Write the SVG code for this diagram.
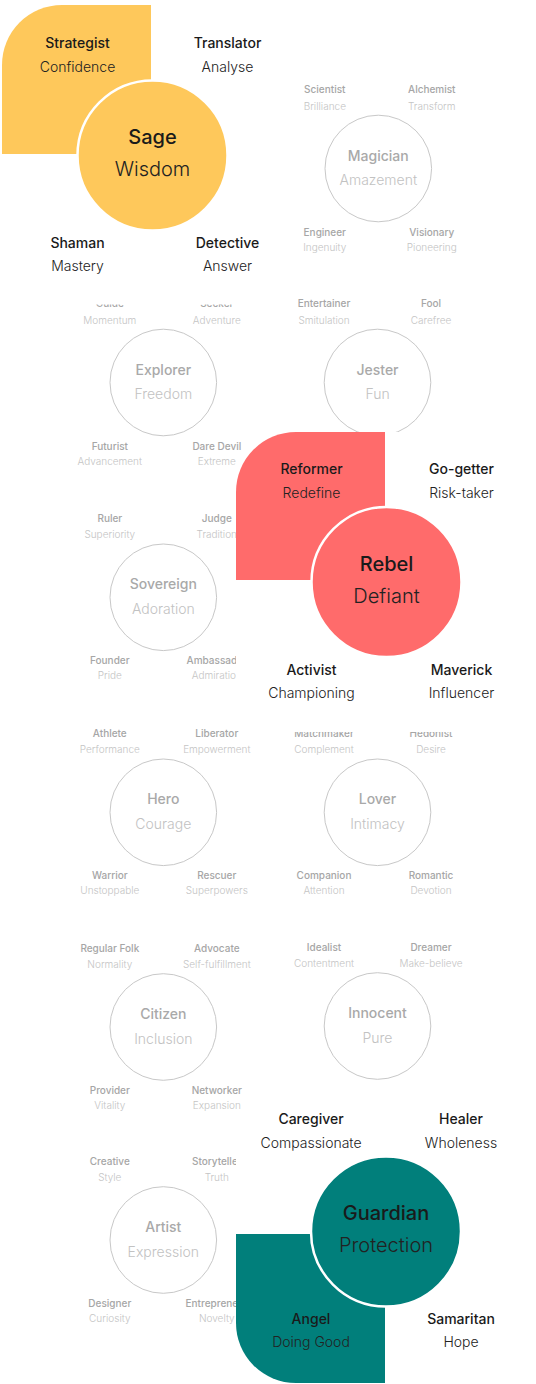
<svg xmlns="http://www.w3.org/2000/svg" width="536" height="1384" viewBox="0 0 536 1384">
<style>
text{font-family:Inter,"Liberation Sans",sans-serif;text-anchor:middle}
.c{fill:none;stroke:#c8c8c8;stroke-width:1}
.nn{font-size:10px;font-weight:500;fill:#a6a6a6}
.nv{font-size:10px;font-weight:300;fill:#c4c4c4}
.nt{font-size:14px;font-weight:500;fill:#a9a9a9}
.ns{font-size:14px;font-weight:300;fill:#c2c2c2}
.hn{font-size:14px;font-weight:500;fill:#1a1a1a}
.hv{font-size:14px;font-weight:300;fill:#222}
.ht{font-size:20px;font-weight:500;fill:#1a1a1a}
.hs{font-size:20px;font-weight:300;fill:#222}
.bg{fill:#fff}
.hc{stroke:#fff;stroke-width:2.5}
.y{fill:#FEC85B}.r{fill:#FF6B6B}.g{fill:#017F7B}
</style>
<rect width="536" height="1384" fill="#fff"/>
<g id="connectors"/>
<g id="magician">
<circle class="c" cx="378.3" cy="168.5" r="53.3"/>
<text class="nt" x="378.3" y="160.5">Magician</text><text class="ns" x="378.3" y="185">Amazement</text>
<text class="nn" x="324.8" y="93">Scientist</text><text class="nv" x="324.8" y="109.5">Brilliance</text>
<text class="nn" x="431.8" y="93">Alchemist</text><text class="nv" x="431.8" y="109.5">Transform</text>
<text class="nn" x="324.8" y="235.5">Engineer</text><text class="nv" x="324.8" y="250.5">Ingenuity</text>
<text class="nn" x="431.8" y="235.5">Visionary</text><text class="nv" x="431.8" y="250.5">Pioneering</text>
</g>
<g id="explorer">
<circle class="c" cx="163.3" cy="382.5" r="53.3"/>
<text class="nt" x="163.3" y="374.5">Explorer</text><text class="ns" x="163.3" y="399">Freedom</text>
<text class="nn" x="109.8" y="307">Guide</text><text class="nv" x="109.8" y="323.5">Momentum</text>
<text class="nn" x="216.8" y="307">Seeker</text><text class="nv" x="216.8" y="323.5">Adventure</text>
<text class="nn" x="109.8" y="449.5">Futurist</text><text class="nv" x="109.8" y="464.5">Advancement</text>
<text class="nn" x="216.8" y="449.5">Dare Devil</text><text class="nv" x="216.8" y="464.5">Extreme</text>
</g>
<g id="jester">
<circle class="c" cx="377.5" cy="382.5" r="53.3"/>
<text class="nt" x="377.5" y="374.5">Jester</text><text class="ns" x="377.5" y="399">Fun</text>
<text class="nn" x="324" y="307">Entertainer</text><text class="nv" x="324" y="323.5">Smitulation</text>
<text class="nn" x="431" y="307">Fool</text><text class="nv" x="431" y="323.5">Carefree</text>
</g>
<g id="sovereign">
<circle class="c" cx="163.3" cy="597.3" r="53.3"/>
<text class="nt" x="163.3" y="589.3">Sovereign</text><text class="ns" x="163.3" y="613.8">Adoration</text>
<text class="nn" x="109.8" y="521.8">Ruler</text><text class="nv" x="109.8" y="538.3">Superiority</text>
<text class="nn" x="216.8" y="521.8">Judge</text><text class="nv" x="216.8" y="538.3">Tradition</text>
<text class="nn" x="109.8" y="664.3">Founder</text><text class="nv" x="109.8" y="679.3">Pride</text>
<text class="nn" x="216.8" y="664.3">Ambassador</text><text class="nv" x="216.8" y="679.3">Admiration</text>
</g>
<g id="hero">
<circle class="c" cx="163.3" cy="812.3" r="53.3"/>
<text class="nt" x="163.3" y="804.3">Hero</text><text class="ns" x="163.3" y="828.8">Courage</text>
<text class="nn" x="109.8" y="736.8">Athlete</text><text class="nv" x="109.8" y="753.3">Performance</text>
<text class="nn" x="216.8" y="736.8">Liberator</text><text class="nv" x="216.8" y="753.3">Empowerment</text>
<text class="nn" x="109.8" y="879.3">Warrior</text><text class="nv" x="109.8" y="894.3">Unstoppable</text>
<text class="nn" x="216.8" y="879.3">Rescuer</text><text class="nv" x="216.8" y="894.3">Superpowers</text>
</g>
<g id="lover">
<circle class="c" cx="377.5" cy="812.3" r="53.3"/>
<text class="nt" x="377.5" y="804.3">Lover</text><text class="ns" x="377.5" y="828.8">Intimacy</text>
<text class="nn" x="324" y="736.8">Matchmaker</text><text class="nv" x="324" y="753.3">Complement</text>
<text class="nn" x="431" y="736.8">Hedonist</text><text class="nv" x="431" y="753.3">Desire</text>
<text class="nn" x="324" y="879.3">Companion</text><text class="nv" x="324" y="894.3">Attention</text>
<text class="nn" x="431" y="879.3">Romantic</text><text class="nv" x="431" y="894.3">Devotion</text>
</g>
<g id="citizen">
<circle class="c" cx="163.3" cy="1027" r="53.3"/>
<text class="nt" x="163.3" y="1019">Citizen</text><text class="ns" x="163.3" y="1043.5">Inclusion</text>
<text class="nn" x="109.8" y="951.5">Regular Folk</text><text class="nv" x="109.8" y="968">Normality</text>
<text class="nn" x="216.8" y="951.5">Advocate</text><text class="nv" x="216.8" y="968">Self-fulfillment</text>
<text class="nn" x="109.8" y="1094">Provider</text><text class="nv" x="109.8" y="1109">Vitality</text>
<text class="nn" x="216.8" y="1094">Networker</text><text class="nv" x="216.8" y="1109">Expansion</text>
</g>
<g id="innocent">
<circle class="c" cx="377.5" cy="1026" r="53.3"/>
<text class="nt" x="377.5" y="1018">Innocent</text><text class="ns" x="377.5" y="1042.5">Pure</text>
<text class="nn" x="324" y="950.5">Idealist</text><text class="nv" x="324" y="967">Contentment</text>
<text class="nn" x="431" y="950.5">Dreamer</text><text class="nv" x="431" y="967">Make-believe</text>
</g>
<g id="artist">
<circle class="c" cx="163.3" cy="1240" r="53.3"/>
<text class="nt" x="163.3" y="1232">Artist</text><text class="ns" x="163.3" y="1256.5">Expression</text>
<text class="nn" x="109.8" y="1164.5">Creative</text><text class="nv" x="109.8" y="1181">Style</text>
<text class="nn" x="216.8" y="1164.5">Storyteller</text><text class="nv" x="216.8" y="1181">Truth</text>
<text class="nn" x="109.8" y="1307">Designer</text><text class="nv" x="109.8" y="1322">Curiosity</text>
<text class="nn" x="216.8" y="1307">Entrepreneur</text><text class="nv" x="216.8" y="1322">Novelty</text>
</g>
<g id="sage">
<rect class="bg" x="0" y="0" width="296" height="304.5"/>
<path class="y" d="M2,65 A60,60 0 0 1 62,5 H151 V154 H2 Z"/>
<circle class="y hc" cx="152.5" cy="155.5" r="75"/>
<text class="ht" x="152.5" y="144">Sage</text><text class="hs" x="152.5" y="176.2">Wisdom</text>
<text class="hn" x="77.5" y="47.5">Strategist</text><text class="hv" x="77.5" y="71.5">Confidence</text>
<text class="hn" x="227.5" y="47.5">Translator</text><text class="hv" x="227.5" y="71.5">Analyse</text>
<text class="hn" x="77.5" y="248">Shaman</text><text class="hv" x="77.5" y="271">Mastery</text>
<text class="hn" x="227.5" y="248">Detective</text><text class="hv" x="227.5" y="271">Answer</text>
</g>
<g id="rebel">
<path class="bg" d="M236,492 A60,60 0 0 1 296,432 H536 V732 H242 V726 H236 Z"/>
<path class="r" d="M236,492 A60,60 0 0 1 296,432 H385 V580 H236 Z"/>
<circle class="r hc" cx="386.5" cy="582" r="75"/>
<text class="ht" x="386.5" y="570.5">Rebel</text><text class="hs" x="386.5" y="602.7">Defiant</text>
<text class="hn" x="311.5" y="474">Reformer</text><text class="hv" x="311.5" y="498">Redefine</text>
<text class="hn" x="461.5" y="474">Go-getter</text><text class="hv" x="461.5" y="498">Risk-taker</text>
<text class="hn" x="311.5" y="674.5">Activist</text><text class="hv" x="311.5" y="697.5">Championing</text>
<text class="hn" x="461.5" y="674.5">Maverick</text><text class="hv" x="461.5" y="697.5">Influencer</text>
</g>
<g id="guardian">
<path class="bg" d="M236,1143 A60,60 0 0 1 296,1083 H536 V1384 H236 Z"/>
<path class="g" d="M236,1234 H385 V1383 H296 A60,60 0 0 1 236,1323 Z"/>
<circle class="g hc" cx="386" cy="1231.5" r="75"/>
<text class="ht" x="386" y="1220">Guardian</text><text class="hs" x="386" y="1252.2">Protection</text>
<text class="hn" x="311" y="1123.5">Caregiver</text><text class="hv" x="311" y="1147.5">Compassionate</text>
<text class="hn" x="461" y="1123.5">Healer</text><text class="hv" x="461" y="1147.5">Wholeness</text>
<text class="hn" x="311" y="1324">Angel</text><text class="hv" x="311" y="1347">Doing Good</text>
<text class="hn" x="461" y="1324">Samaritan</text><text class="hv" x="461" y="1347">Hope</text>
</g>
</svg>
